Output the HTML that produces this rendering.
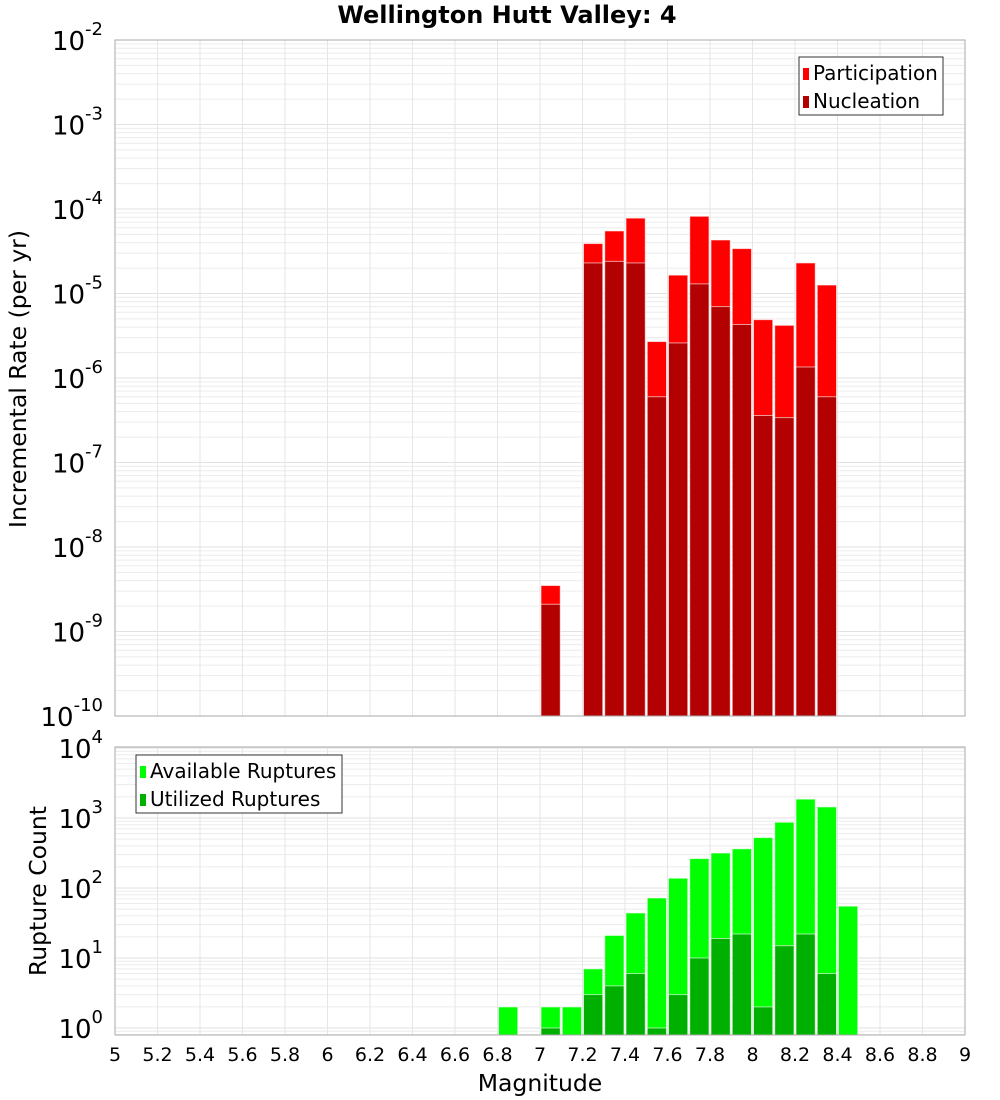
<!DOCTYPE html>
<html><head><meta charset="utf-8"><style>
body{margin:0;background:#fff;}
svg{display:block;font-family:"DejaVu Sans","Liberation Sans",sans-serif;}
</style></head><body>
<svg id="c" width="1000" height="1100"></svg>
<script>
const mags=[6.8,7.0,7.1,7.2,7.3,7.4,7.5,7.6,7.7,7.8,7.9,8.0,8.1,8.2,8.3,8.4];
const partMags=[7.0,7.2,7.3,7.4,7.5,7.6,7.7,7.8,7.9,8.0,8.1,8.2,8.3];
const participation=[3.5e-9,3.9e-5,5.5e-5,7.8e-5,2.7e-6,1.65e-5,8.2e-5,4.3e-5,3.4e-5,4.9e-6,4.2e-6,2.3e-5,1.26e-5];
const nucleation=[2.1e-9,2.3e-5,2.4e-5,2.3e-5,6e-7,2.6e-6,1.3e-5,7e-6,4.3e-6,3.6e-7,3.4e-7,1.35e-6,6e-7];
const available=[2,2,2,7,21,44,72,138,263,316,363,525,870,1860,1440,55];
const utilized=[0,1,0,3,4,6,1,3,10,19,22,2,15,22,6,0];
const xTicks=["5","5.2","5.4","5.6","5.8","6","6.2","6.4","6.6","6.8","7","7.2","7.4","7.6","7.8","8","8.2","8.4","8.6","8.8","9"];
const topExp=[-10,-9,-8,-7,-6,-5,-4,-3,-2];
const botExp=[0,1,2,3,4];

const svg=document.getElementById('c');
const NS='http://www.w3.org/2000/svg';
function mk(tag,attrs,parent){const e=document.createElementNS(NS,tag);for(const k in attrs)e.setAttribute(k,attrs[k]);(parent||svg).appendChild(e);return e;}
const X0=115,X1=965;
const x=m=>X0+(m-5)/4*(X1-X0);
const T0=40,T1=716;
const yTop=v=>T0+(-2-Math.log10(v))*(T1-T0)/8;
const B0=747,B1=1035,BZ=1028,BD=70;
const yBot=v=>BZ-Math.log10(v)*BD;

function grid(y0,y1,expLo,expHi,yf){
  for(let e=expLo;e<=expHi;e++)for(let k=1;k<10;k++){const v=k*Math.pow(10,e);const yy=yf(v);if(yy<y0-0.5||yy>y1+0.5)continue;
    const l=mk('line',{x1:X0,x2:X1,y1:yy,y2:yy,stroke:k==1?'#e2e2e2':'#ececec','stroke-width':1});
    }
  for(let i=0;i<xTicks.length;i++){const xx=x(+xTicks[i]);
    const l=mk('line',{x1:xx,x2:xx,y1:y0,y2:y1,stroke:'#e6e6e6','stroke-width':1});
    }
}
grid(T0,T1,-10,-2,yTop);
grid(B0,B1,-1,4,yBot);

const bw=(x(5.1)-x(5));
function bar(m,yy,base,fill,name){const r=mk('rect',{x:x(m)+1,y:yy,width:bw-2,height:Math.max(0,base-yy),fill:fill,stroke:'rgba(255,255,255,0.6)','stroke-width':1});
  }
partMags.forEach((m,i)=>{bar(m,yTop(participation[i]),T1,'#ff0000','participation-bar');});
partMags.forEach((m,i)=>{bar(m,yTop(nucleation[i]),T1,'#b30000','nucleation-bar');});
mags.forEach((m,i)=>{bar(m,yBot(available[i]),B1,'#00ff00','available-bar');});
mags.forEach((m,i)=>{if(utilized[i]>0)bar(m,yBot(utilized[i]),B1,'#00b000','utilized-bar');});

let f=mk('rect',{x:X0,y:T0,width:X1-X0,height:T1-T0,fill:'none',stroke:'#aaa'});

f=mk('rect',{x:X0,y:B0,width:X1-X0,height:B1-B0,fill:'none',stroke:'#aaa'});


function ylab(e,yy,name){const t=mk('text',{x:103,y:yy+10,'text-anchor':'end','font-size':26,fill:'#000'});
  
  t.textContent='10';const s=mk('tspan',{dy:-15,'font-size':18},t);s.textContent=String(e);}
topExp.forEach(e=>ylab(e,yTop(Math.pow(10,e)),'y-tick-label'));
botExp.forEach(e=>ylab(e,yBot(Math.pow(10,e)),'y-tick-label'));
xTicks.forEach(s=>{const t=mk('text',{x:x(+s),y:1061,'text-anchor':'middle','font-size':19});
  t.textContent=s;});

function txt(s,a,name){const t=mk('text',a);t.textContent=s;return t;}
txt('Wellington Hutt Valley: 4',{x:507,y:23,'text-anchor':'middle','font-size':24,'font-weight':'bold'},'chart-title');
txt('Magnitude',{x:540,y:1091,'text-anchor':'middle','font-size':23.5},'x-axis-title');
txt('Incremental Rate (per yr)',{x:0,y:0,'text-anchor':'middle','font-size':23.5,transform:'translate(26,379) rotate(-90)'},'top-y-axis-title');
txt('Rupture Count',{x:0,y:0,'text-anchor':'middle','font-size':23.5,transform:'translate(46,891) rotate(-90)'},'bottom-y-axis-title');

function legend(x0,y0,w,items,name){const g=mk('g',{});
  mk('rect',{x:x0,y:y0,width:w,height:58,fill:'#fff',stroke:'#333'},g);
  items.forEach((it,i)=>{mk('rect',{x:x0+4,y:y0+11+i*28,width:6,height:12,fill:it[1]},g);
    const t=mk('text',{x:x0+14,y:y0+23+i*28,'font-size':20},g);t.textContent=it[0];});}
legend(799,57,144,[['Participation','#ff0000'],['Nucleation','#b30000']],'top-legend');
legend(136,755,206,[['Available Ruptures','#00ff00'],['Utilized Ruptures','#00b000']],'bottom-legend');
</script>
</body></html>
